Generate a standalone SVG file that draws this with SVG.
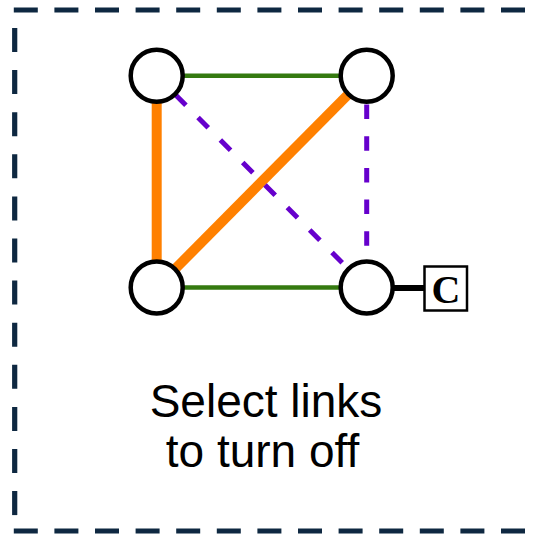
<svg xmlns="http://www.w3.org/2000/svg" width="540" height="536" viewBox="0 0 540 536">
  <style>
    .frame { fill: none; stroke: #0E2841; stroke-width: 5.2; }
    .frame-h { stroke-dasharray: 24 16.6; }
    .frame-v { stroke-dasharray: 24 18.1; }
    .node { fill: #FFFFFF; stroke: #000000; stroke-width: 4.5; }
    .link-on { fill: none; stroke: #FF8000; stroke-width: 10; }
    .link-ok { fill: none; stroke: #357A10; stroke-width: 4.5; }
    .link-off { fill: none; stroke: #6600CC; stroke-width: 5; stroke-dasharray: 14.5 17.2; }
    .tap { fill: none; stroke: #000000; stroke-width: 6; }
    .label { font-family: "Liberation Sans", Arial, sans-serif; font-size: 46px; fill: #000000; text-anchor: middle; }
    .ctrl-box { fill: #FFFFFF; stroke: #000000; stroke-width: 2.5; }
    .ctrl-text { font-family: "Liberation Serif", "Times New Roman", serif; font-weight: bold; font-size: 40px; fill: #000000; text-anchor: middle; }
  </style>

  <!-- dashed frame, open on the right -->
  <g id="frame">
    <path class="frame frame-h" d="M-26.8,10 H560"/>
    <path class="frame frame-v" d="M14.7,28 V520"/>
    <path class="frame frame-h" d="M-26.8,531 H560"/>
  </g>

  <!-- links between the four switches -->
  <g id="connectors">
    <line class="link-ok" x1="156.7" y1="75.8" x2="366.7" y2="75.8"/>
    <line class="link-ok" x1="156.7" y1="287.5" x2="366.7" y2="287.5"/>
    <line class="link-on" x1="156.7" y1="75.8" x2="156.7" y2="287.5"/>
    <line class="link-on" x1="156.7" y1="287.5" x2="366.7" y2="75.8"/>
    <line class="link-off" x1="175.7" y1="95.0" x2="346.8" y2="267.4"/>
    <line class="link-off" x1="366.7" y1="104.5" x2="366.7" y2="259"/>
    <line class="tap" x1="392" y1="288" x2="425" y2="288"/>
  </g>

  <g id="node-tl"><circle class="node" cx="156.7" cy="75.8" r="26"/></g>
  <g id="node-tr"><circle class="node" cx="366.7" cy="75.8" r="26"/></g>
  <g id="node-bl"><circle class="node" cx="156.7" cy="287.5" r="26"/></g>
  <g id="node-br"><circle class="node" cx="366.7" cy="287.5" r="26"/></g>

  <g id="controller">
    <rect class="ctrl-box" x="424.5" y="266.5" width="42.5" height="44"/>
    <text class="ctrl-text" x="446" y="302.5">C</text>
  </g>

  <g id="caption">
    <text class="label" x="266" y="416.7">Select links</text>
    <text class="label" x="262.5" y="466.7">to turn off</text>
  </g>
</svg>
